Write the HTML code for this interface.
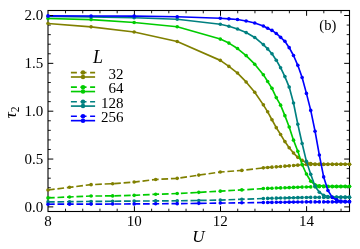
<!DOCTYPE html>
<html lang="en"><head><meta charset="utf-8"><title>tau_2 vs U</title>
<style>
html,body{margin:0;padding:0;background:#fff;}
body{width:360px;height:249px;overflow:hidden;font-family:"Liberation Serif",serif;}
svg{display:block;will-change:transform;}
</style>
</head><body>
<svg width="360" height="249" viewBox="0 0 360 249" role="img" aria-label="tau_2 versus U for L = 32, 64, 128, 256 (b)">
<rect x="0" y="0" width="360" height="249" fill="#fff"/>
<path d="M134.40,211.5 v-5.3 M134.40,10.5 v5.3 M220.50,211.5 v-5.3 M220.50,10.5 v5.3 M306.60,211.5 v-5.3 M306.60,10.5 v5.3 M48.0,206.90 h5.3 M349.5,206.90 h-5.3 M48.0,159.05 h5.3 M349.5,159.05 h-5.3 M48.0,111.20 h5.3 M349.5,111.20 h-5.3 M48.0,63.35 h5.3 M349.5,63.35 h-5.3 M48.0,15.50 h5.3 M349.5,15.50 h-5.3" stroke="#000" stroke-width="1.0" fill="none"/>
<path d="M65.52,211.5 v-2.8 M65.52,10.5 v2.8 M82.74,211.5 v-2.8 M82.74,10.5 v2.8 M99.96,211.5 v-2.8 M99.96,10.5 v2.8 M117.18,211.5 v-2.8 M117.18,10.5 v2.8 M151.62,211.5 v-2.8 M151.62,10.5 v2.8 M168.84,211.5 v-2.8 M168.84,10.5 v2.8 M186.06,211.5 v-2.8 M186.06,10.5 v2.8 M203.28,211.5 v-2.8 M203.28,10.5 v2.8 M237.72,211.5 v-2.8 M237.72,10.5 v2.8 M254.94,211.5 v-2.8 M254.94,10.5 v2.8 M272.16,211.5 v-2.8 M272.16,10.5 v2.8 M289.38,211.5 v-2.8 M289.38,10.5 v2.8 M323.82,211.5 v-2.8 M323.82,10.5 v2.8 M341.04,211.5 v-2.8 M341.04,10.5 v2.8 M48.0,197.33 h2.8 M349.5,197.33 h-2.8 M48.0,187.76 h2.8 M349.5,187.76 h-2.8 M48.0,178.19 h2.8 M349.5,178.19 h-2.8 M48.0,168.62 h2.8 M349.5,168.62 h-2.8 M48.0,149.48 h2.8 M349.5,149.48 h-2.8 M48.0,139.91 h2.8 M349.5,139.91 h-2.8 M48.0,130.34 h2.8 M349.5,130.34 h-2.8 M48.0,120.77 h2.8 M349.5,120.77 h-2.8 M48.0,101.63 h2.8 M349.5,101.63 h-2.8 M48.0,92.06 h2.8 M349.5,92.06 h-2.8 M48.0,82.49 h2.8 M349.5,82.49 h-2.8 M48.0,72.92 h2.8 M349.5,72.92 h-2.8 M48.0,53.78 h2.8 M349.5,53.78 h-2.8 M48.0,44.21 h2.8 M349.5,44.21 h-2.8 M48.0,34.64 h2.8 M349.5,34.64 h-2.8 M48.0,25.07 h2.8 M349.5,25.07 h-2.8" stroke="#000" stroke-width="0.9" fill="none"/>
<rect x="48.0" y="10.5" width="301.5" height="201.00" fill="none" stroke="#000" stroke-width="1.1"/>
<g fill="none" stroke-linejoin="round">
<path d="M48.00,189.99 L69.54,187.31 L91.07,184.64 L112.61,183.69 L134.14,182.06 L155.68,179.49 L177.21,178.34 L198.75,175.10 L220.29,172.04 L241.82,170.42 L263.36,167.84 L267.66,167.51 L271.97,167.17 L276.28,166.84 L280.59,166.51 L284.89,166.17 L289.20,165.84 L293.51,165.50 L297.81,165.17 L302.12,164.84 L306.43,164.50 L310.74,164.47 L315.04,164.44 L319.35,164.42 L323.66,164.39 L327.96,164.36 L332.27,164.33 L336.58,164.30 L340.89,164.27 L345.19,164.24 L349.50,164.22" stroke="#808000" stroke-width="1.65" stroke-dasharray="6.7 2.8"/>
<g fill="#808000" stroke="none"><circle cx="48.00" cy="189.99" r="1.8"/><circle cx="69.54" cy="187.31" r="1.8"/><circle cx="91.07" cy="184.64" r="1.8"/><circle cx="112.61" cy="183.69" r="1.8"/><circle cx="134.14" cy="182.06" r="1.8"/><circle cx="155.68" cy="179.49" r="1.8"/><circle cx="177.21" cy="178.34" r="1.8"/><circle cx="198.75" cy="175.10" r="1.8"/><circle cx="220.29" cy="172.04" r="1.8"/><circle cx="241.82" cy="170.42" r="1.8"/><circle cx="263.36" cy="167.84" r="1.8"/><circle cx="267.66" cy="167.51" r="1.8"/><circle cx="271.97" cy="167.17" r="1.8"/><circle cx="276.28" cy="166.84" r="1.8"/><circle cx="280.59" cy="166.51" r="1.8"/><circle cx="284.89" cy="166.17" r="1.8"/><circle cx="289.20" cy="165.84" r="1.8"/><circle cx="293.51" cy="165.50" r="1.8"/><circle cx="297.81" cy="165.17" r="1.8"/><circle cx="302.12" cy="164.84" r="1.8"/><circle cx="306.43" cy="164.50" r="1.8"/><circle cx="310.74" cy="164.47" r="1.8"/><circle cx="315.04" cy="164.44" r="1.8"/><circle cx="319.35" cy="164.42" r="1.8"/><circle cx="323.66" cy="164.39" r="1.8"/><circle cx="327.96" cy="164.36" r="1.8"/><circle cx="332.27" cy="164.33" r="1.8"/><circle cx="336.58" cy="164.30" r="1.8"/><circle cx="340.89" cy="164.27" r="1.8"/><circle cx="345.19" cy="164.24" r="1.8"/><circle cx="349.50" cy="164.22" r="1.8"/></g>
<path d="M48.00,23.52 L91.07,26.86 L134.14,32.02 L177.21,41.47 L220.29,60.37 L228.90,66.38 L237.51,73.06 L246.13,81.94 L254.74,92.25 L263.36,104.85 L267.66,111.81 L271.97,119.74 L276.28,127.66 L280.59,134.53 L284.89,141.59 L289.20,147.70 L293.51,153.05 L297.81,157.34 L302.12,160.40 L306.43,162.59 L310.74,163.64 L315.04,164.02 L319.35,164.22 L323.66,164.22 L327.96,164.22 L332.27,164.22 L336.58,164.22 L340.89,164.22 L345.19,164.22 L349.50,164.22" stroke="#808000" stroke-width="1.65"/>
<g fill="#808000" stroke="none"><circle cx="48.00" cy="23.52" r="1.8"/><circle cx="91.07" cy="26.86" r="1.8"/><circle cx="134.14" cy="32.02" r="1.8"/><circle cx="177.21" cy="41.47" r="1.8"/><circle cx="220.29" cy="60.37" r="1.8"/><circle cx="228.90" cy="66.38" r="1.8"/><circle cx="237.51" cy="73.06" r="1.8"/><circle cx="246.13" cy="81.94" r="1.8"/><circle cx="254.74" cy="92.25" r="1.8"/><circle cx="263.36" cy="104.85" r="1.8"/><circle cx="267.66" cy="111.81" r="1.8"/><circle cx="271.97" cy="119.74" r="1.8"/><circle cx="276.28" cy="127.66" r="1.8"/><circle cx="280.59" cy="134.53" r="1.8"/><circle cx="284.89" cy="141.59" r="1.8"/><circle cx="289.20" cy="147.70" r="1.8"/><circle cx="293.51" cy="153.05" r="1.8"/><circle cx="297.81" cy="157.34" r="1.8"/><circle cx="302.12" cy="160.40" r="1.8"/><circle cx="306.43" cy="162.59" r="1.8"/><circle cx="310.74" cy="163.64" r="1.8"/><circle cx="315.04" cy="164.02" r="1.8"/><circle cx="319.35" cy="164.22" r="1.8"/><circle cx="323.66" cy="164.22" r="1.8"/><circle cx="327.96" cy="164.22" r="1.8"/><circle cx="332.27" cy="164.22" r="1.8"/><circle cx="336.58" cy="164.22" r="1.8"/><circle cx="340.89" cy="164.22" r="1.8"/><circle cx="345.19" cy="164.22" r="1.8"/><circle cx="349.50" cy="164.22" r="1.8"/></g>
<path d="M48.00,197.91 L69.54,196.96 L91.07,196.00 L112.61,195.91 L134.14,195.33 L155.68,194.28 L177.21,193.52 L198.75,192.37 L220.29,191.13 L241.82,189.89 L263.36,188.56 L267.66,188.39 L271.97,188.23 L276.28,188.07 L280.59,187.91 L284.89,187.74 L289.20,187.58 L293.51,187.42 L297.81,187.26 L302.12,187.10 L306.43,186.93 L310.74,186.89 L315.04,186.86 L319.35,186.82 L323.66,186.78 L327.96,186.74 L332.27,186.70 L336.58,186.67 L340.89,186.63 L345.19,186.59 L349.50,186.55" stroke="#00cc00" stroke-width="1.65" stroke-dasharray="6.7 2.8"/>
<g fill="#00cc00" stroke="none"><circle cx="48.00" cy="197.91" r="1.8"/><circle cx="69.54" cy="196.96" r="1.8"/><circle cx="91.07" cy="196.00" r="1.8"/><circle cx="112.61" cy="195.91" r="1.8"/><circle cx="134.14" cy="195.33" r="1.8"/><circle cx="155.68" cy="194.28" r="1.8"/><circle cx="177.21" cy="193.52" r="1.8"/><circle cx="198.75" cy="192.37" r="1.8"/><circle cx="220.29" cy="191.13" r="1.8"/><circle cx="241.82" cy="189.89" r="1.8"/><circle cx="263.36" cy="188.56" r="1.8"/><circle cx="267.66" cy="188.39" r="1.8"/><circle cx="271.97" cy="188.23" r="1.8"/><circle cx="276.28" cy="188.07" r="1.8"/><circle cx="280.59" cy="187.91" r="1.8"/><circle cx="284.89" cy="187.74" r="1.8"/><circle cx="289.20" cy="187.58" r="1.8"/><circle cx="293.51" cy="187.42" r="1.8"/><circle cx="297.81" cy="187.26" r="1.8"/><circle cx="302.12" cy="187.10" r="1.8"/><circle cx="306.43" cy="186.93" r="1.8"/><circle cx="310.74" cy="186.89" r="1.8"/><circle cx="315.04" cy="186.86" r="1.8"/><circle cx="319.35" cy="186.82" r="1.8"/><circle cx="323.66" cy="186.78" r="1.8"/><circle cx="327.96" cy="186.74" r="1.8"/><circle cx="332.27" cy="186.70" r="1.8"/><circle cx="336.58" cy="186.67" r="1.8"/><circle cx="340.89" cy="186.63" r="1.8"/><circle cx="345.19" cy="186.59" r="1.8"/><circle cx="349.50" cy="186.55" r="1.8"/></g>
<path d="M48.00,18.46 L91.07,19.61 L134.14,22.47 L177.21,26.72 L220.29,39.08 L228.90,43.09 L237.51,48.53 L246.13,55.59 L254.74,64.18 L263.36,74.68 L267.66,81.46 L271.97,88.33 L276.28,97.59 L280.59,105.13 L284.89,115.63 L289.20,126.99 L293.51,140.16 L297.81,151.23 L302.12,164.50 L306.43,174.05 L310.74,181.21 L315.04,184.83 L319.35,185.69 L323.66,186.17 L327.96,186.36 L332.27,186.36 L336.58,186.36 L340.89,186.36 L345.19,186.36 L349.50,186.36" stroke="#00cc00" stroke-width="1.65"/>
<g fill="#00cc00" stroke="none"><circle cx="48.00" cy="18.46" r="1.8"/><circle cx="91.07" cy="19.61" r="1.8"/><circle cx="134.14" cy="22.47" r="1.8"/><circle cx="177.21" cy="26.72" r="1.8"/><circle cx="220.29" cy="39.08" r="1.8"/><circle cx="228.90" cy="43.09" r="1.8"/><circle cx="237.51" cy="48.53" r="1.8"/><circle cx="246.13" cy="55.59" r="1.8"/><circle cx="254.74" cy="64.18" r="1.8"/><circle cx="263.36" cy="74.68" r="1.8"/><circle cx="267.66" cy="81.46" r="1.8"/><circle cx="271.97" cy="88.33" r="1.8"/><circle cx="276.28" cy="97.59" r="1.8"/><circle cx="280.59" cy="105.13" r="1.8"/><circle cx="284.89" cy="115.63" r="1.8"/><circle cx="289.20" cy="126.99" r="1.8"/><circle cx="293.51" cy="140.16" r="1.8"/><circle cx="297.81" cy="151.23" r="1.8"/><circle cx="302.12" cy="164.50" r="1.8"/><circle cx="306.43" cy="174.05" r="1.8"/><circle cx="310.74" cy="181.21" r="1.8"/><circle cx="315.04" cy="184.83" r="1.8"/><circle cx="319.35" cy="185.69" r="1.8"/><circle cx="323.66" cy="186.17" r="1.8"/><circle cx="327.96" cy="186.36" r="1.8"/><circle cx="332.27" cy="186.36" r="1.8"/><circle cx="336.58" cy="186.36" r="1.8"/><circle cx="340.89" cy="186.36" r="1.8"/><circle cx="345.19" cy="186.36" r="1.8"/><circle cx="349.50" cy="186.36" r="1.8"/></g>
<path d="M48.00,201.92 L69.54,201.68 L91.07,201.44 L112.61,201.25 L134.14,201.06 L155.68,200.92 L177.21,200.77 L198.75,200.44 L220.29,200.10 L241.82,199.29 L263.36,198.48 L267.66,198.38 L271.97,198.27 L276.28,198.17 L280.59,198.06 L284.89,197.96 L289.20,197.85 L293.51,197.75 L297.81,197.64 L302.12,197.54 L306.43,197.43 L310.74,197.42 L315.04,197.41 L319.35,197.40 L323.66,197.39 L327.96,197.38 L332.27,197.37 L336.58,197.37 L340.89,197.36 L345.19,197.35 L349.50,197.34" stroke="#008080" stroke-width="1.65" stroke-dasharray="6.7 2.8"/>
<g fill="#008080" stroke="none"><circle cx="48.00" cy="201.92" r="1.8"/><circle cx="69.54" cy="201.68" r="1.8"/><circle cx="91.07" cy="201.44" r="1.8"/><circle cx="112.61" cy="201.25" r="1.8"/><circle cx="134.14" cy="201.06" r="1.8"/><circle cx="155.68" cy="200.92" r="1.8"/><circle cx="177.21" cy="200.77" r="1.8"/><circle cx="198.75" cy="200.44" r="1.8"/><circle cx="220.29" cy="200.10" r="1.8"/><circle cx="241.82" cy="199.29" r="1.8"/><circle cx="263.36" cy="198.48" r="1.8"/><circle cx="267.66" cy="198.38" r="1.8"/><circle cx="271.97" cy="198.27" r="1.8"/><circle cx="276.28" cy="198.17" r="1.8"/><circle cx="280.59" cy="198.06" r="1.8"/><circle cx="284.89" cy="197.96" r="1.8"/><circle cx="289.20" cy="197.85" r="1.8"/><circle cx="293.51" cy="197.75" r="1.8"/><circle cx="297.81" cy="197.64" r="1.8"/><circle cx="302.12" cy="197.54" r="1.8"/><circle cx="306.43" cy="197.43" r="1.8"/><circle cx="310.74" cy="197.42" r="1.8"/><circle cx="315.04" cy="197.41" r="1.8"/><circle cx="319.35" cy="197.40" r="1.8"/><circle cx="323.66" cy="197.39" r="1.8"/><circle cx="327.96" cy="197.38" r="1.8"/><circle cx="332.27" cy="197.37" r="1.8"/><circle cx="336.58" cy="197.37" r="1.8"/><circle cx="340.89" cy="197.36" r="1.8"/><circle cx="345.19" cy="197.35" r="1.8"/><circle cx="349.50" cy="197.34" r="1.8"/></g>
<path d="M48.00,16.55 L91.07,16.94 L134.14,17.80 L177.21,19.23 L220.29,24.29 L228.90,26.29 L237.51,29.06 L246.13,32.59 L254.74,37.46 L263.36,44.62 L267.66,48.91 L271.97,53.78 L276.28,60.18 L280.59,67.72 L284.89,76.59 L289.20,87.09 L293.51,103.03 L297.81,124.22 L302.12,143.50 L306.43,161.35 L310.74,174.33 L315.04,186.26 L319.35,192.18 L323.66,195.33 L327.96,196.48 L332.27,196.96 L336.58,197.15 L340.89,197.15 L345.19,197.15 L349.50,197.15" stroke="#008080" stroke-width="1.65"/>
<g fill="#008080" stroke="none"><circle cx="48.00" cy="16.55" r="1.8"/><circle cx="91.07" cy="16.94" r="1.8"/><circle cx="134.14" cy="17.80" r="1.8"/><circle cx="177.21" cy="19.23" r="1.8"/><circle cx="220.29" cy="24.29" r="1.8"/><circle cx="228.90" cy="26.29" r="1.8"/><circle cx="237.51" cy="29.06" r="1.8"/><circle cx="246.13" cy="32.59" r="1.8"/><circle cx="254.74" cy="37.46" r="1.8"/><circle cx="263.36" cy="44.62" r="1.8"/><circle cx="267.66" cy="48.91" r="1.8"/><circle cx="271.97" cy="53.78" r="1.8"/><circle cx="276.28" cy="60.18" r="1.8"/><circle cx="280.59" cy="67.72" r="1.8"/><circle cx="284.89" cy="76.59" r="1.8"/><circle cx="289.20" cy="87.09" r="1.8"/><circle cx="293.51" cy="103.03" r="1.8"/><circle cx="297.81" cy="124.22" r="1.8"/><circle cx="302.12" cy="143.50" r="1.8"/><circle cx="306.43" cy="161.35" r="1.8"/><circle cx="310.74" cy="174.33" r="1.8"/><circle cx="315.04" cy="186.26" r="1.8"/><circle cx="319.35" cy="192.18" r="1.8"/><circle cx="323.66" cy="195.33" r="1.8"/><circle cx="327.96" cy="196.48" r="1.8"/><circle cx="332.27" cy="196.96" r="1.8"/><circle cx="336.58" cy="197.15" r="1.8"/><circle cx="340.89" cy="197.15" r="1.8"/><circle cx="345.19" cy="197.15" r="1.8"/><circle cx="349.50" cy="197.15" r="1.8"/></g>
<path d="M48.00,204.21 L69.54,204.16 L91.07,204.11 L112.61,204.02 L134.14,203.92 L155.68,203.78 L177.21,203.64 L198.75,203.35 L220.29,203.06 L241.82,202.78 L263.36,202.49 L267.66,202.43 L271.97,202.38 L276.28,202.32 L280.59,202.26 L284.89,202.20 L289.20,202.15 L293.51,202.09 L297.81,202.03 L302.12,201.98 L306.43,201.92 L310.74,201.92 L315.04,201.92 L319.35,201.92 L323.66,201.92 L327.96,201.92 L332.27,201.92 L336.58,201.92 L340.89,201.92 L345.19,201.92 L349.50,201.92" stroke="#0000ff" stroke-width="1.65" stroke-dasharray="6.7 2.8"/>
<g fill="#0000ff" stroke="none"><circle cx="48.00" cy="204.21" r="1.8"/><circle cx="69.54" cy="204.16" r="1.8"/><circle cx="91.07" cy="204.11" r="1.8"/><circle cx="112.61" cy="204.02" r="1.8"/><circle cx="134.14" cy="203.92" r="1.8"/><circle cx="155.68" cy="203.78" r="1.8"/><circle cx="177.21" cy="203.64" r="1.8"/><circle cx="198.75" cy="203.35" r="1.8"/><circle cx="220.29" cy="203.06" r="1.8"/><circle cx="241.82" cy="202.78" r="1.8"/><circle cx="263.36" cy="202.49" r="1.8"/><circle cx="267.66" cy="202.43" r="1.8"/><circle cx="271.97" cy="202.38" r="1.8"/><circle cx="276.28" cy="202.32" r="1.8"/><circle cx="280.59" cy="202.26" r="1.8"/><circle cx="284.89" cy="202.20" r="1.8"/><circle cx="289.20" cy="202.15" r="1.8"/><circle cx="293.51" cy="202.09" r="1.8"/><circle cx="297.81" cy="202.03" r="1.8"/><circle cx="302.12" cy="201.98" r="1.8"/><circle cx="306.43" cy="201.92" r="1.8"/><circle cx="310.74" cy="201.92" r="1.8"/><circle cx="315.04" cy="201.92" r="1.8"/><circle cx="319.35" cy="201.92" r="1.8"/><circle cx="323.66" cy="201.92" r="1.8"/><circle cx="327.96" cy="201.92" r="1.8"/><circle cx="332.27" cy="201.92" r="1.8"/><circle cx="336.58" cy="201.92" r="1.8"/><circle cx="340.89" cy="201.92" r="1.8"/><circle cx="345.19" cy="201.92" r="1.8"/><circle cx="349.50" cy="201.92" r="1.8"/></g>
<path d="M48.00,15.89 L91.07,15.98 L134.14,16.17 L177.21,16.75 L220.29,18.27 L228.90,18.85 L237.51,19.51 L246.13,20.95 L254.74,22.95 L263.36,26.00 L267.66,28.29 L271.97,30.39 L276.28,33.45 L280.59,37.36 L284.89,41.28 L289.20,47.67 L293.51,55.50 L297.81,65.33 L302.12,77.55 L306.43,93.39 L310.74,110.38 L315.04,131.19 L319.35,155.05 L323.66,176.91 L327.96,190.56 L332.27,197.43 L336.58,199.91 L340.89,200.96 L345.19,201.35 L349.50,201.54" stroke="#0000ff" stroke-width="1.65"/>
<g fill="#0000ff" stroke="none"><circle cx="48.00" cy="15.89" r="1.8"/><circle cx="91.07" cy="15.98" r="1.8"/><circle cx="134.14" cy="16.17" r="1.8"/><circle cx="177.21" cy="16.75" r="1.8"/><circle cx="220.29" cy="18.27" r="1.8"/><circle cx="228.90" cy="18.85" r="1.8"/><circle cx="237.51" cy="19.51" r="1.8"/><circle cx="246.13" cy="20.95" r="1.8"/><circle cx="254.74" cy="22.95" r="1.8"/><circle cx="263.36" cy="26.00" r="1.8"/><circle cx="267.66" cy="28.29" r="1.8"/><circle cx="271.97" cy="30.39" r="1.8"/><circle cx="276.28" cy="33.45" r="1.8"/><circle cx="280.59" cy="37.36" r="1.8"/><circle cx="284.89" cy="41.28" r="1.8"/><circle cx="289.20" cy="47.67" r="1.8"/><circle cx="293.51" cy="55.50" r="1.8"/><circle cx="297.81" cy="65.33" r="1.8"/><circle cx="302.12" cy="77.55" r="1.8"/><circle cx="306.43" cy="93.39" r="1.8"/><circle cx="310.74" cy="110.38" r="1.8"/><circle cx="315.04" cy="131.19" r="1.8"/><circle cx="319.35" cy="155.05" r="1.8"/><circle cx="323.66" cy="176.91" r="1.8"/><circle cx="327.96" cy="190.56" r="1.8"/><circle cx="332.27" cy="197.43" r="1.8"/><circle cx="336.58" cy="199.91" r="1.8"/><circle cx="340.89" cy="200.96" r="1.8"/><circle cx="345.19" cy="201.35" r="1.8"/><circle cx="349.50" cy="201.54" r="1.8"/></g>
</g>
<path d="M49.9,15.55 H53.1" stroke="#000" stroke-width="1.0" fill="none"/>
<text x="327.8" y="30.15" text-anchor="middle" font-family="'Liberation Serif', serif" font-size="14.5" fill="#000">(b)</text>
<path d="M70.9,72.6 H95.1" stroke="#808000" stroke-width="1.65" stroke-dasharray="6 3.6" fill="none"/>
<path d="M70.9,77.0 H95.1" stroke="#808000" stroke-width="1.65" fill="none"/>
<circle cx="83" cy="72.6" r="2.25" fill="#808000"/><circle cx="83" cy="77.0" r="2.25" fill="#808000"/>
<path d="M70.9,87.15 H95.1" stroke="#00cc00" stroke-width="1.65" stroke-dasharray="6 3.6" fill="none"/>
<path d="M70.9,91.55000000000001 H95.1" stroke="#00cc00" stroke-width="1.65" fill="none"/>
<circle cx="83" cy="87.15" r="2.25" fill="#00cc00"/><circle cx="83" cy="91.55000000000001" r="2.25" fill="#00cc00"/>
<path d="M70.9,101.7 H95.1" stroke="#008080" stroke-width="1.65" stroke-dasharray="6 3.6" fill="none"/>
<path d="M70.9,106.10000000000001 H95.1" stroke="#008080" stroke-width="1.65" fill="none"/>
<circle cx="83" cy="101.7" r="2.25" fill="#008080"/><circle cx="83" cy="106.10000000000001" r="2.25" fill="#008080"/>
<path d="M70.9,116.25 H95.1" stroke="#0000ff" stroke-width="1.65" stroke-dasharray="6 3.6" fill="none"/>
<path d="M70.9,120.65 H95.1" stroke="#0000ff" stroke-width="1.65" fill="none"/>
<circle cx="83" cy="116.25" r="2.25" fill="#0000ff"/><circle cx="83" cy="120.65" r="2.25" fill="#0000ff"/>
<g font-family="'Liberation Serif', serif" font-size="15" fill="#000" stroke="none"><text x="48.05" y="226" text-anchor="middle">8</text><text x="134.2" y="226" text-anchor="middle">10</text><text x="220.3" y="226" text-anchor="middle">12</text><text x="306.4" y="226" text-anchor="middle">14</text><text x="43.3" y="211.65" text-anchor="end">0.0</text><text x="43.3" y="163.8" text-anchor="end">0.5</text><text x="43.3" y="115.95" text-anchor="end">1.0</text><text x="43.3" y="68.1" text-anchor="end">1.5</text><text x="43.3" y="20.25" text-anchor="end">2.0</text><text x="198.5" y="242.2" text-anchor="middle" font-size="17" font-style="italic">U</text><text transform="translate(16.39,118.33) rotate(-90)" font-size="17" font-style="italic">τ<tspan font-size="11.5" dy="2.5" font-style="normal">2</tspan></text><text x="93" y="62.9" font-size="18" font-style="italic">L</text><text x="123.4" y="78.8" text-anchor="end">32</text><text x="123.4" y="93.35" text-anchor="end">64</text><text x="123.4" y="107.9" text-anchor="end">128</text><text x="123.4" y="122.45" text-anchor="end">256</text></g>
</svg>
</body></html>
